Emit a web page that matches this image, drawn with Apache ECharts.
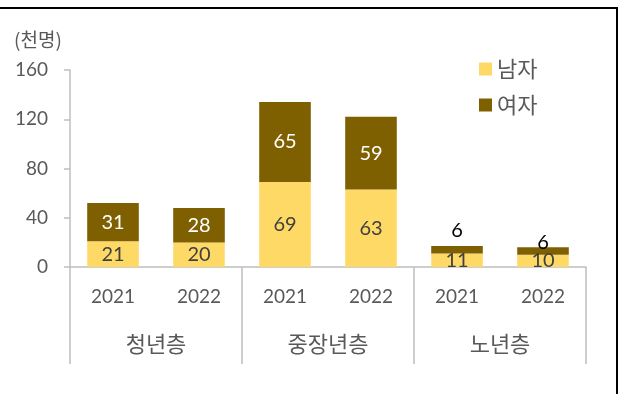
<!DOCTYPE html>
<html>
<head>
<meta charset="utf-8">
<script src="https://cdn.jsdelivr.net/npm/echarts@6/dist/echarts.min.js"></script>
<style>
  html, body { margin: 0; padding: 0; background: #ffffff; }
  #chart { width: 621px; height: 394px; }
</style>
</head>
<body>
<div id="chart"></div>
<script>
// Population by age group and year (thousand persons)
const years = ['2021', '2022', '2021', '2022', '2021', '2022'];
const groups = ['청년층', '중장년층', '노년층'];
const male = [21, 20, 69, 63, 11, 10];
const female = [31, 28, 65, 59, 6, 6];
const yTicks = { min: 0, max: 160, step: 40 };

const FONT = "Lato, 'Noto Sans CJK KR', sans-serif";
const KFONT = "'Noto Sans CJK KR', sans-serif";
const AXIS_GREY = '#BFBFBF';
const TEXT_GREY = '#595959';

// small female segments carry their label above the stack
const femaleLabelLift = [null, null, null, null, 6, -5];

const femaleData = female.map((v, i) => {
  const lift = femaleLabelLift[i];
  if (lift === null) return v;
  return {
    value: v,
    label: { position: 'top', distance: lift, color: '#000000' }
  };
});

const chart = echarts.init(document.getElementById('chart'), null, { renderer: 'canvas' });

chart.setOption({
  animation: false,
  backgroundColor: '#ffffff',
  textStyle: { fontFamily: FONT },
  grid: { left: 70, right: 35, top: 70, bottom: 127, containLabel: false },
  legend: {
    orient: 'vertical',
    left: 474,
    top: 53,
    itemWidth: 13,
    itemHeight: 13,
    itemGap: 14,
    icon: 'rect',
    textStyle: { fontFamily: KFONT, fontSize: 22, color: TEXT_GREY, padding: [0, 0, 0, 0] },
    data: ['남자', '여자']
  },
  graphic: [
    {
      type: 'text', left: 14, top: 30,
      style: { text: '(천명)', font: "19px " + KFONT, fill: TEXT_GREY }
    },
    {
      type: 'polyline', silent: true,
      shape: { points: [[-2, 8], [617, 8], [617, 400]] },
      style: { stroke: '#000000', lineWidth: 2, fill: null }
    }
  ],
  xAxis: [
    {
      type: 'category',
      data: years,
      position: 'bottom',
      axisLine: { show: true, lineStyle: { color: AXIS_GREY, width: 1.5 } },
      axisTick: { show: false },
      axisLabel: { margin: 20, fontSize: 19, color: TEXT_GREY, fontFamily: FONT }
    },
    {
      type: 'category',
      data: groups,
      position: 'bottom',
      axisLine: { show: false },
      axisTick: { show: true, length: 97, lineStyle: { color: AXIS_GREY, width: 1.5 } },
      axisLabel: { margin: 66, fontSize: 22, color: TEXT_GREY, fontFamily: KFONT }
    }
  ],
  yAxis: {
    type: 'value',
    min: yTicks.min,
    max: yTicks.max,
    interval: yTicks.step,
    axisLine: { show: true, lineStyle: { color: AXIS_GREY, width: 1.5 } },
    axisTick: { show: true, length: 6, lineStyle: { color: AXIS_GREY, width: 1.5 } },
    splitLine: { show: false },
    axisLabel: { margin: 22, fontSize: 19, color: TEXT_GREY, fontFamily: FONT }
  },
  series: [
    {
      name: '남자',
      type: 'bar',
      stack: 'total',
      xAxisIndex: 0,
      barWidth: '60%',
      itemStyle: { color: '#FFD966' },
      label: { show: true, position: 'inside', fontSize: 20, color: '#404040', fontFamily: FONT },
      data: male
    },
    {
      name: '여자',
      type: 'bar',
      stack: 'total',
      xAxisIndex: 0,
      barWidth: '60%',
      itemStyle: { color: '#7F6000' },
      label: { show: true, position: 'inside', fontSize: 20, color: '#ffffff', fontFamily: FONT },
      data: femaleData
    }
  ]
});
</script>
</body>
</html>
